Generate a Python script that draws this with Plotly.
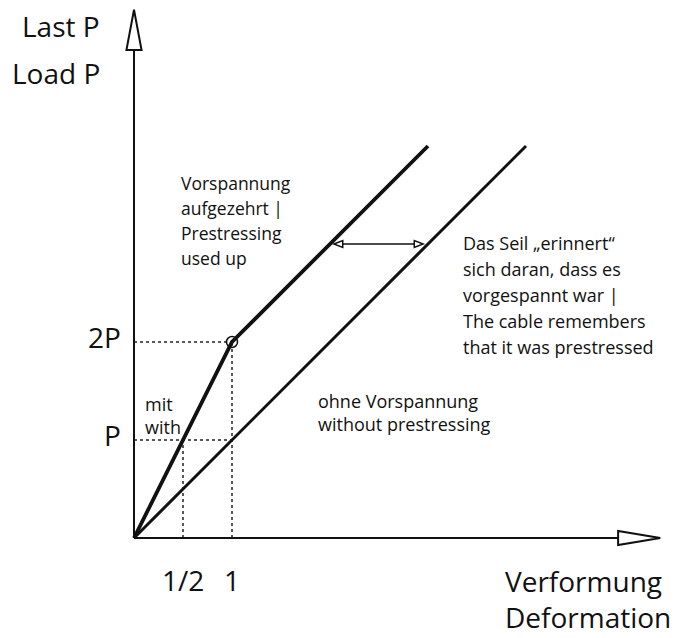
import plotly.graph_objects as go

# ---- data ----
with_x = [0, 1, 3]          # with prestressing (kink at 1, 2P)
with_y = [0, 2, 4]
without_x = [0, 4]          # without prestressing
without_y = [0, 4]
kink_x = [1]
kink_y = [2]
x_ticks = [0.5, 1]
x_tick_labels = ["1/2", "1"]
y_ticks = [1, 2]
y_tick_labels = ["P", "2P"]
arrow_y = 3                  # horizontal "remembers" arrow level
arrow_x = [2, 3]

FONT = "Open Sans"
OFF = 8  # page body margin
W, H = 683 - OFF, 638 - OFF
fig = go.Figure()

# dotted guide lines
guides = [
    ([x_ticks[0], x_ticks[0]], [0, y_ticks[0]]),
    ([x_ticks[1], x_ticks[1]], [0, y_ticks[1]]),
    ([0, x_ticks[1]], [y_ticks[0], y_ticks[0]]),
    ([0, x_ticks[1]], [y_ticks[1], y_ticks[1]]),
]
for gx, gy in guides:
    fig.add_trace(go.Scatter(x=gx, y=gy, mode="lines",
                             line=dict(color="#222", width=1.5, dash="dot"),
                             hoverinfo="skip"))

fig.add_trace(go.Scatter(x=without_x, y=without_y, mode="lines",
                         line=dict(color="#111", width=3)))
fig.add_trace(go.Scatter(x=with_x, y=with_y, mode="lines",
                         line=dict(color="#111", width=3.8)))
fig.add_trace(go.Scatter(x=kink_x, y=kink_y, mode="markers",
                         marker=dict(symbol="circle-open", size=11,
                                     color="#111", line=dict(width=1.5))))

shapes = []
# axes
shapes.append(dict(type="line", x0=0, y0=0, x1=0, y1=4.98,
                   line=dict(color="#111", width=2)))
shapes.append(dict(type="line", x0=0, y0=0, x1=4.94, y1=0,
                   line=dict(color="#111", width=2)))
# axis arrowheads (open triangles)
shapes.append(dict(type="path", path="M -0.077,4.98 L 0.077,4.98 L 0,5.39 Z",
                   line=dict(color="#111", width=2), fillcolor="white"))
shapes.append(dict(type="path", path="M 4.94,-0.071 L 4.94,0.071 L 5.37,0 Z",
                   line=dict(color="#111", width=2), fillcolor="white"))
# small double arrow
ax0, ax1 = arrow_x[0] + 0.04, arrow_x[1] - 0.05
shapes.append(dict(type="line", x0=ax0 + 0.08, y0=arrow_y, x1=ax1 - 0.08, y1=arrow_y,
                   line=dict(color="#111", width=1.5)))
shapes.append(dict(type="path",
                   path=f"M {ax0},{arrow_y} L {ax0+0.09},{arrow_y+0.035} L {ax0+0.09},{arrow_y-0.035} Z",
                   line=dict(color="#111", width=1.5), fillcolor="white"))
shapes.append(dict(type="path",
                   path=f"M {ax1},{arrow_y} L {ax1-0.09},{arrow_y+0.035} L {ax1-0.09},{arrow_y-0.035} Z",
                   line=dict(color="#111", width=1.5), fillcolor="white"))

ann = []
def txt(x, y, s, size, xanchor="left", align="left"):
    ann.append(dict(x=x, y=y, text=s, showarrow=False, xanchor=xanchor, align=align,
                    yanchor="middle", font=dict(family=FONT, size=size, color="#111")))

# axis titles
txt(-0.33, 5.22, "Last P", 28, "right")
txt(-0.33, 4.75, "Load P", 28, "right")
txt(3.77, -0.44, "Verformung", 28)
txt(3.77, -0.81, "Deformation", 28)
# tick labels
for v, lab in zip(y_ticks, y_tick_labels):
    txt(-0.11, v + 0.05, lab, 28, "right")
for v, lab in zip(x_ticks, x_tick_labels):
    ann.append(dict(x=v, y=-0.43, text=lab, showarrow=False, xanchor="center",
                    yanchor="middle", font=dict(family=FONT, size=28, color="#111")))

block1 = ["Vorspannung", "aufgezehrt |", "Prestressing", "used up"]
for i, s in enumerate(block1):
    txt(0.46, 3.62 - i * 0.255, s, 17.5)
block2 = ["Das Seil \u201eerinnert\u201c", "sich daran, dass es", "vorgespannt war |",
          "The cable remembers", "that it was prestressed"]
for i, s in enumerate(block2):
    txt(3.34, 3.01 - i * 0.265, s, 18)
block3 = ["ohne Vorspannung", "without prestressing"]
txt(1.86, 1.28, "<br>".join(block3), 18)
block4 = ["mit", "with"]
for i, s in enumerate(block4):
    txt(0.09, 1.37 - i * 0.235, s, 18)

fig.update_layout(
    width=W, height=H, autosize=False,
    margin=dict(l=0, r=0, t=0, b=0),
    paper_bgcolor="white", plot_bgcolor="white",
    showlegend=False,
    xaxis=dict(visible=False, range=[-(134 - OFF) / 98, (W - 134 + OFF) / 98], fixedrange=True),
    yaxis=dict(visible=False, range=[(538 - OFF - H) / 98, (538 - OFF) / 98], fixedrange=True),
    shapes=shapes, annotations=ann,
)
fig.write_html("out.html")
